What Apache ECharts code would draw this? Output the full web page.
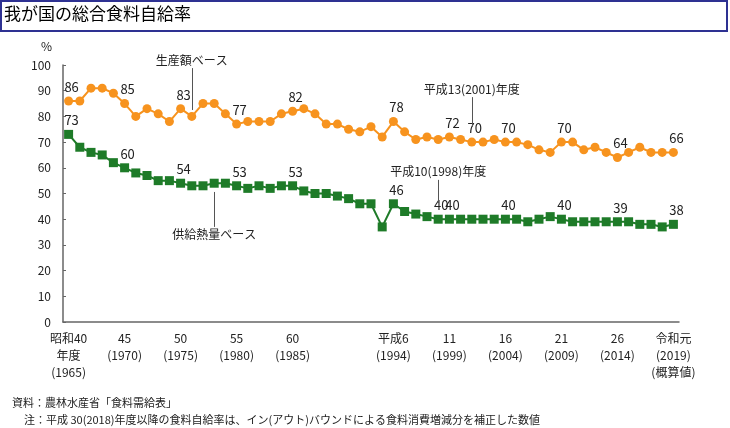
<!DOCTYPE html>
<html>
<head>
<meta charset="utf-8">
<script src="https://cdn.jsdelivr.net/npm/echarts@6/dist/echarts.min.js"></script>
<style>
  html, body { margin: 0; padding: 0; background: #fff; }
  #chart { width: 730px; height: 428px; }
</style>
</head>
<body>
<div id="chart"></div>
<script>
// 年度 1965〜2019
const years = [];
for (let y = 1965; y <= 2019; y++) years.push(y);

// 生産額ベース
const prodValue = [86, 86, 91, 91, 89, 85, 80, 83, 81, 78, 83, 80, 85, 85, 81, 77, 78, 78, 78, 81,
  82, 83, 81, 77, 77, 75, 74, 76, 72, 78, 74, 71, 72, 71, 72, 71, 70, 70, 71, 70,
  70, 69, 67, 66, 70, 70, 67, 68, 66, 64, 66, 68, 66, 66, 66];
// 供給熱量ベース
const calorie = [73, 68, 66, 65, 62, 60, 58, 57, 55, 55, 54, 53, 53, 54, 54, 53, 52, 53, 52, 53,
  53, 51, 50, 50, 49, 48, 46, 46, 37, 46, 43, 42, 41, 40, 40, 40, 40, 40, 40, 40,
  40, 39, 40, 41, 40, 39, 39, 39, 39, 39, 39, 38, 38, 37, 38];

// ラベルを表示する年度
const prodLabelYears = [1965, 1970, 1975, 1980, 1985, 1994, 1999, 2001, 2004, 2009, 2014, 2019];
const calLabelYears = [1965, 1970, 1975, 1980, 1985, 1994, 1998, 1999, 2004, 2009, 2014, 2019];

// 横軸ラベル
const xLabels = {
  1965: '昭和40\n年度\n(1965)',
  1970: '45\n(1970)',
  1975: '50\n(1975)',
  1980: '55\n(1980)',
  1985: '60\n(1985)',
  1994: '平成6\n(1994)',
  1999: '11\n(1999)',
  2004: '16\n(2004)',
  2009: '21\n(2009)',
  2014: '26\n(2014)',
  2019: '令和元\n(2019)\n(概算値)'
};

const yTicks = [0, 10, 20, 30, 40, 50, 60, 70, 80, 90, 100];

const ORANGE = '#F7931E';
const GREEN = '#1E7B28';
const FONT = '"Noto Sans CJK JP", "Noto Sans", sans-serif';

const idx = y => years.indexOf(y);

const chart = echarts.init(document.getElementById('chart'));

const option = {
  animation: false,
  textStyle: { fontFamily: FONT },
  graphic: [
    {
      type: 'rect',
      shape: { x: 1, y: 1, width: 726, height: 30 },
      style: { fill: '#fff', stroke: '#2E3192', lineWidth: 2 }
    },
    {
      type: 'text',
      left: 4, top: 5,
      style: { text: '我が国の総合食料自給率', fontSize: 17, fontFamily: FONT, fill: '#000' }
    },
    {
      type: 'text',
      left: 41, top: 40,
      style: { text: '%', fontSize: 12, fontFamily: FONT, fill: '#222' }
    },
    {
      type: 'text',
      left: 12, top: 397,
      style: { text: '資料：農林水産省「食料需給表」', fontSize: 11, fontFamily: FONT, fill: '#222' }
    },
    {
      type: 'text',
      left: 24, top: 414,
      style: { text: '注：平成 30(2018)年度以降の食料自給率は、イン(アウト)バウンドによる食料消費増減分を補正した数値', fontSize: 11, fontFamily: FONT, fill: '#222' }
    }
  ],
  grid: { left: 63, right: 51, top: 65, bottom: 106 },
  xAxis: {
    type: 'category',
    data: years.map(String),
    axisLine: { lineStyle: { color: '#666', width: 1.5 } },
    axisTick: { show: false },
    axisLabel: {
      interval: (i, v) => xLabels[v] !== undefined,
      formatter: v => xLabels[v] || '',
      color: '#222',
      fontSize: 12,
      lineHeight: 17,
      margin: 8
    }
  },
  yAxis: {
    type: 'value',
    min: 0,
    max: 100,
    interval: 10,
    axisLine: { show: true, lineStyle: { color: '#666', width: 1.5 } },
    axisTick: { show: true, inside: true, length: 3, lineStyle: { color: '#666' } },
    splitLine: { show: false },
    axisLabel: {
      color: '#222', fontSize: 12, margin: 12,
      formatter: v => yTicks.includes(v) ? String(v) : ''
    }
  },
  series: [
    {
      name: '生産額ベース',
      type: 'line',
      data: prodValue,
      color: ORANGE,
      symbol: 'circle',
      symbolSize: 9,
      showAllSymbol: true,
      lineStyle: { width: 2 },
      label: {
        show: true,
        position: 'top',
        offset: [3, 0],
        distance: 3,
        color: '#222',
        fontSize: 13,
        formatter: p => prodLabelYears.includes(years[p.dataIndex]) ? p.value : ''
      },
      markLine: {
        silent: true,
        symbol: 'none',
        lineStyle: { color: '#555', type: 'solid', width: 1 },
        label: { color: '#222', fontSize: 12, fontFamily: FONT },
        data: [
          [
            { coord: [idx(1976), 98.8], label: { position: 'start', formatter: '生産額ベース', distance: 2 } },
            { coord: [idx(1976), 82.5] }
          ],
          [
            { coord: [idx(2001), 87.5], label: { position: 'start', formatter: '平成13(2001)年度', distance: 2 } },
            { coord: [idx(2001), 75.9] }
          ]
        ]
      }
    },
    {
      name: '供給熱量ベース',
      type: 'line',
      data: calorie,
      color: GREEN,
      symbol: 'rect',
      symbolSize: 9,
      showAllSymbol: true,
      lineStyle: { width: 2 },
      label: {
        show: true,
        position: 'top',
        offset: [3, 0],
        distance: 3,
        color: '#222',
        fontSize: 13,
        formatter: p => calLabelYears.includes(years[p.dataIndex]) ? p.value : ''
      },
      markLine: {
        silent: true,
        symbol: 'none',
        lineStyle: { color: '#555', type: 'solid', width: 1 },
        label: { color: '#222', fontSize: 12, fontFamily: FONT },
        data: [
          [
            { coord: [idx(1998), 55.3], label: { position: 'start', formatter: '平成10(1998)年度', distance: 2 } },
            { coord: [idx(1998), 46.3] }
          ],
          [
            { coord: [idx(1978), 50.6] },
            { coord: [idx(1978), 37], label: { position: 'end', formatter: '供給熱量ベース', distance: 2 } }
          ]
        ]
      }
    }
  ]
};

chart.setOption(option);
</script>
</body>
</html>
